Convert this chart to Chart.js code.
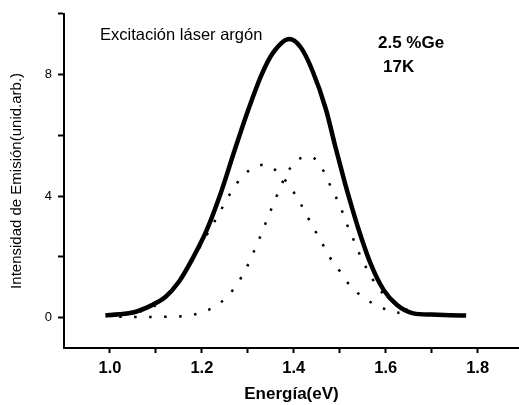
<!DOCTYPE html>
<html>
<head>
<meta charset="utf-8">
<script src="https://cdn.jsdelivr.net/npm/chart.js@4"></script>
<style>
  html, body { margin: 0; padding: 0; background: #fff; overflow: hidden; }
  #wrap { width: 519px; height: 405px; }
</style>
</head>
<body>
<div id="wrap"><canvas id="c" width="519" height="405"></canvas></div>
<script>
// Total emission spectrum (solid curve)
const energyTotal = [0.99, 1.02, 1.05, 1.08, 1.10, 1.12, 1.15, 1.18, 1.21, 1.24, 1.27, 1.30, 1.33, 1.355, 1.39, 1.415, 1.44, 1.47, 1.49, 1.51, 1.525, 1.54, 1.566, 1.595, 1.624, 1.66, 1.70, 1.74, 1.775];
const intensityTotal = [0.07, 0.11, 0.17, 0.33, 0.48, 0.67, 1.18, 1.95, 2.86, 4.05, 5.45, 6.8, 8.0, 8.72, 9.17, 8.9, 8.15, 6.85, 5.65, 4.5, 3.7, 2.95, 1.82, 0.92, 0.42, 0.14, 0.1, 0.08, 0.07];

// Low-energy Gaussian component (dotted)
const energyBandA = [1.0, 1.05, 1.09, 1.12, 1.15, 1.18, 1.206, 1.223, 1.24, 1.257, 1.277, 1.305, 1.335, 1.367, 1.391, 1.412, 1.428, 1.445, 1.462, 1.479, 1.501, 1.524, 1.555, 1.587, 1.617, 1.63];
const intensityBandA = [0.05, 0.15, 0.33, 0.65, 1.15, 1.9, 2.6, 3.04, 3.5, 3.96, 4.44, 4.87, 5.03, 4.77, 4.32, 3.83, 3.37, 2.9, 2.44, 1.97, 1.51, 1.02, 0.63, 0.35, 0.2, 0.15];

// High-energy Gaussian component (dotted)
const energyBandB = [1.02, 1.06, 1.09, 1.12, 1.15, 1.18, 1.211, 1.242, 1.271, 1.29, 1.306, 1.319, 1.332, 1.344, 1.357, 1.37, 1.384, 1.406, 1.437, 1.463, 1.477, 1.492, 1.506, 1.517, 1.531, 1.544, 1.559, 1.577, 1.60, 1.63, 1.66, 1.70];
const intensityBandB = [0.03, 0.02, 0.02, 0.03, 0.04, 0.09, 0.23, 0.51, 0.98, 1.44, 1.92, 2.39, 2.85, 3.32, 3.79, 4.26, 4.72, 5.17, 5.29, 4.87, 4.42, 3.96, 3.47, 3.02, 2.53, 2.06, 1.6, 1.13, 0.7, 0.38, 0.18, 0.1];

// Axis ticks
const xLabeledTicks = [1.0, 1.2, 1.4, 1.6, 1.8];
const xMinorTicks = [1.1, 1.3, 1.5, 1.7];
const yLabeledTicks = [0, 4, 8];
const yMinorTicks = [2, 6, 10];

const FONT = '"Liberation Sans", Arial, Helvetica, sans-serif';

function pts(xs, ys) { return xs.map((x, i) => ({ x: x, y: ys[i] })); }
function hasTick(list, v) { return list.some(t => Math.abs(t - v) < 1e-6); }

const notes = {
  id: 'notes',
  afterDraw(chart) {
    const ctx = chart.ctx;
    ctx.save();
    ctx.fillStyle = '#000';
    ctx.textBaseline = 'alphabetic';
    ctx.textAlign = 'left';
    ctx.font = '16.5px ' + FONT;
    ctx.fillText('Excitación láser argón', 100, 40);
    ctx.font = 'bold 17px ' + FONT;
    ctx.fillText('2.5 %Ge', 378, 48);
    ctx.fillText('17K', 383, 72);
    ctx.restore();
  }
};

const lineStyle = { borderColor: '#000', pointRadius: 0, fill: false, cubicInterpolationMode: 'monotone' };

new Chart(document.getElementById('c'), {
  type: 'line',
  data: {
    datasets: [
      Object.assign({ data: pts(energyTotal, intensityTotal), borderWidth: 4.5 }, lineStyle),
      Object.assign({ data: pts(energyBandA, intensityBandA), borderWidth: 2.5, borderDash: [2.5, 12.5] }, lineStyle),
      Object.assign({ data: pts(energyBandB, intensityBandB), borderWidth: 2.5, borderDash: [2.5, 12.5] }, lineStyle)
    ]
  },
  options: {
    responsive: false,
    animation: false,
    devicePixelRatio: 1,
    layout: { padding: { top: 12, right: 0, bottom: 0, left: 0 } },
    plugins: { legend: { display: false }, tooltip: { enabled: false } },
    scales: {
      x: {
        type: 'linear',
        min: 0.9,
        max: 1.89,
        afterBuildTicks: s => { s.ticks = xLabeledTicks.concat(xMinorTicks).sort((a, b) => a - b).map(v => ({ value: v })); },
        afterFit: s => { s.height = 57; },
        grid: { display: true, drawOnChartArea: false, drawTicks: true, tickLength: 5, tickWidth: 2, tickColor: '#000' },
        border: { display: true, color: '#000', width: 2 },
        ticks: {
          autoSkip: false, maxRotation: 0, padding: 6, color: '#000',
          font: { family: FONT, size: 16.5, weight: 'bold' },
          callback: v => hasTick(xLabeledTicks, v) ? v.toFixed(1) : ''
        },
        title: { display: true, text: 'Energía(eV)', color: '#000', font: { family: FONT, size: 17, weight: 'bold' }, padding: { top: 0, bottom: 0 } }
      },
      y: {
        type: 'linear',
        min: -1,
        max: 10,
        afterBuildTicks: s => { s.ticks = yLabeledTicks.concat(yMinorTicks).sort((a, b) => a - b).map(v => ({ value: v })); },
        afterFit: s => { s.width = 64; },
        grid: { display: true, drawOnChartArea: false, drawTicks: true, tickLength: 6, tickWidth: 2, tickColor: '#000' },
        border: { display: true, color: '#000', width: 2 },
        ticks: {
          autoSkip: false, padding: 6, color: '#000',
          font: { family: FONT, size: 13 },
          callback: v => hasTick(yLabeledTicks, v) ? String(v) : ''
        },
        title: { display: true, text: 'Intensidad de Emisión(unid.arb.)', color: '#000', font: { family: FONT, size: 15 }, padding: { top: 8, bottom: 0 } }
      }
    }
  },
  plugins: [notes]
});
</script>
</body>
</html>
